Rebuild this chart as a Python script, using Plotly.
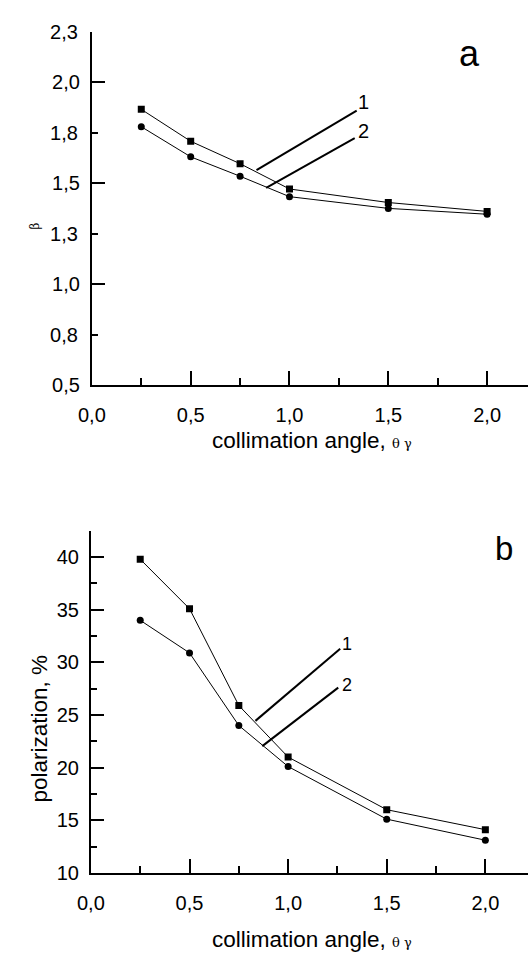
import plotly.graph_objects as go

# ---- data ----
angle = [0.25, 0.5, 0.75, 1.0, 1.5, 2.0]
beta_1 = [1.865, 1.707, 1.596, 1.471, 1.404, 1.360]
beta_2 = [1.779, 1.630, 1.534, 1.433, 1.375, 1.346]
pol_1 = [39.8, 35.1, 25.9, 21.0, 16.0, 14.1]
pol_2 = [34.0, 30.9, 24.0, 20.1, 15.1, 13.1]

x_tick_vals = [0.0, 0.5, 1.0, 1.5, 2.0]
x_tick_text = ["0,0", "0,5", "1,0", "1,5", "2,0"]
beta_major_vals = [0.5, 1.0, 1.5, 2.0]
beta_major_text = ["0,5", "1,0", "1,5", "2,0"]
beta_minor_vals = [0.75, 1.25, 1.75, 2.25]
beta_minor_text = ["0,8", "1,3", "1,8", "2,3"]
pol_tick_vals = [10, 15, 20, 25, 30, 35, 40]
pol_tick_text = ["10", "15", "20", "25", "30", "35", "40"]

series_names = ["1", "2"]
panel_labels = ["a", "b"]
x_title = "collimation angle, "
x_title_sym = "θ γ"
y_title_a = "β"
y_title_b = "polarization, %"

# leader lines: (x0, y0, x1, y1) in data units, label position
leaders_a = [((0.833, 1.564, 1.340, 1.859), (1.374, 1.902)),
             ((0.882, 1.477, 1.330, 1.723), (1.374, 1.757))]
leaders_b = [((0.834, 24.44, 1.264, 31.3), (1.298, 31.76)),
             ((0.869, 22.04, 1.254, 27.6), (1.298, 27.87))]

W, H = 528, 962
FONT = "Liberation Sans, Arial, sans-serif"

def px_x(p):
    return p / W

def px_y(p):
    return 1 - p / H

fig = go.Figure()

line_style = dict(color="black", width=1)
for xa, ya, s1, s2 in [("x", "y", beta_1, beta_2), ("x2", "y2", pol_1, pol_2)]:
    fig.add_trace(go.Scatter(x=angle, y=s1, xaxis=xa, yaxis=ya, mode="lines+markers",
                             line=line_style, name=series_names[0],
                             marker=dict(symbol="square", size=7, color="black")))
    fig.add_trace(go.Scatter(x=angle, y=s2, xaxis=xa, yaxis=ya, mode="lines+markers",
                             line=line_style, name=series_names[1],
                             marker=dict(symbol="circle", size=7, color="black")))
# invisible trace so the overlaid minor-label axis is drawn
fig.add_trace(go.Scatter(x=angle, y=beta_1, xaxis="x", yaxis="y3", mode="markers",
                         marker=dict(opacity=0), hoverinfo="skip", showlegend=False))

tickfont = dict(family=FONT, size=20, color="black")

x_common = dict(
    range=[0, 448 / 203], showgrid=False, zeroline=False, showline=True,
    linecolor="black", linewidth=2, ticks="inside", ticklen=14, tickwidth=2,
    tickcolor="black", tickvals=x_tick_vals, ticktext=x_tick_text,
    tickfont=tickfont, ticklabelstandoff=11,
    minor=dict(ticks="inside", ticklen=7, tickwidth=2, tickcolor="black",
               tickvals=[0.25, 0.75, 1.25, 1.75]),
    domain=[px_x(80), 1.0],
)

fig.update_layout(
    width=W, height=H, margin=dict(l=0, r=0, t=0, b=0),
    plot_bgcolor="white", paper_bgcolor="white", showlegend=False,
    font=dict(family=FONT, color="black"),
    xaxis=dict(x_common, anchor="y"),
    yaxis=dict(
        domain=[px_y(383), px_y(21)], range=[0.5, 2.25], anchor="x",
        showgrid=False, zeroline=False, showline=True, linecolor="black", linewidth=2,
        ticks="inside", ticklen=13, tickwidth=2, tickcolor="black",
        tickvals=beta_major_vals, ticktext=beta_major_text, tickfont=tickfont,
        ticklabelstandoff=6,
    ),
    yaxis3=dict(
        domain=[px_y(383), px_y(21)], range=[0.5, 2.25], anchor="x", overlaying="y",
        side="left", showgrid=False, zeroline=False, showline=False,
        ticks="inside", ticklen=6, tickwidth=2, tickcolor="black",
        tickvals=beta_minor_vals, ticktext=beta_minor_text, tickfont=tickfont,
        ticklabelstandoff=13,
    ),
    xaxis2=dict(x_common, anchor="y2", domain=[px_x(79), 1.0], range=[0, 449 / 202.6]),
    yaxis2=dict(
        domain=[px_y(882), px_y(532)], range=[10, 42.5], anchor="x2",
        showgrid=False, zeroline=False, showline=True, linecolor="black", linewidth=2,
        ticks="inside", ticklen=13, tickwidth=2, tickcolor="black",
        tickvals=pol_tick_vals, ticktext=pol_tick_text, tickfont=tickfont,
        ticklabelstandoff=6,
        minor=dict(ticks="inside", ticklen=6, tickwidth=2, tickcolor="black",
                   tickvals=[12.5, 17.5, 22.5, 27.5, 32.5, 37.5, 42.5]),
    ),
)

# leader lines and number labels
for leaders, xr, yr, fs in [(leaders_a, "x", "y", 20), (leaders_b, "x2", "y2", 18)]:
    for (x0, y0, x1, y1), (lx, ly) in leaders:
        fig.add_shape(type="line", x0=x0, y0=y0, x1=x1, y1=y1, xref=xr, yref=yr,
                      line=dict(color="black", width=2))
    for name, (_, (lx, ly)) in zip(series_names, leaders):
        fig.add_annotation(x=lx, y=ly, xref=xr, yref=yr, text=name, showarrow=False,
                           xanchor="center", yanchor="middle",
                           font=dict(family=FONT, size=fs, color="black"))

# panel letters
fig.add_annotation(x=1.911, y=2.139, xref="x", yref="y", text=panel_labels[0],
                   showarrow=False, xanchor="center", yanchor="middle",
                   font=dict(family=FONT, size=36, color="black"))
fig.add_annotation(x=2.093, y=40.8, xref="x2", yref="y2", text=panel_labels[1],
                   showarrow=False, xanchor="center", yanchor="middle",
                   font=dict(family=FONT, size=33, color="black"))

# axis titles
title_text = x_title + '<span style="font-size:13px;font-family:DejaVu Serif">' + x_title_sym + "</span>"
for ypix in (440, 950):
    fig.add_annotation(x=px_x(306), y=px_y(ypix), xref="paper", yref="paper",
                       text=title_text, showarrow=False, xanchor="center", yanchor="middle",
                       font=dict(family=FONT, size=22.5, color="black"))
fig.add_annotation(x=px_x(22), y=px_y(220), xref="paper", yref="paper", text=y_title_a,
                   textangle=-90, showarrow=False, xanchor="center", yanchor="middle",
                   font=dict(family="DejaVu Serif", size=12, color="black"))
fig.add_annotation(x=px_x(26), y=px_y(734), xref="paper", yref="paper", text=y_title_b,
                   textangle=-90, showarrow=False, xanchor="center", yanchor="middle",
                   font=dict(family=FONT, size=22.5, color="black"))

fig.write_html("out.html")
